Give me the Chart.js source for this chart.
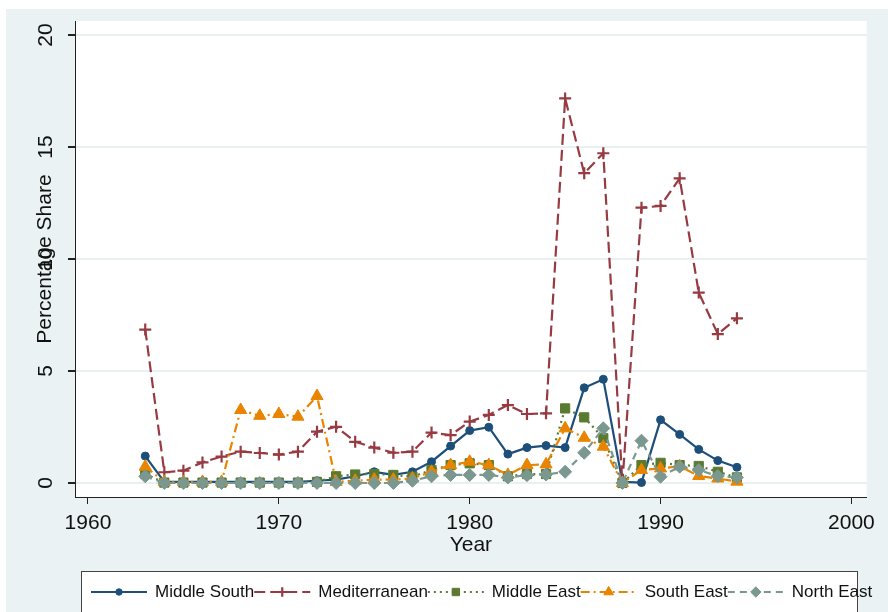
<!DOCTYPE html>
<html lang="en">
<head>
  <meta charset="UTF-8" />
  <title>Percentage Share by Region</title>
  <script src="https://cdn.jsdelivr.net/npm/chart.js"></script>
  <style>
    body {
      margin: 0;
      background: #fff;
    }
    .wrap {
      width: 888px;
      height: 612px;
    }
  </style>
</head>
<body>
  <div class="wrap">
    <canvas id="shareChart" width="888" height="612"></canvas>
  </div>

  <script>
    // ------------------------------------------
    // Data
    // ------------------------------------------
    const years = [1963, 1964, 1965, 1966, 1967, 1968, 1969, 1970, 1971, 1972,
                   1973, 1974, 1975, 1976, 1977, 1978, 1979, 1980, 1981, 1982,
                   1983, 1984, 1985, 1986, 1987, 1988, 1989, 1990, 1991, 1992,
                   1993, 1994];

    const middleSouth   = [1.2, 0.05, 0.05, 0.05, 0.05, 0.05, 0.05, 0.05, 0.05, 0.1,
                           0.15, 0.3, 0.5, 0.36, 0.5, 0.95, 1.65, 2.34, 2.49, 1.29,
                           1.58, 1.67, 1.58, 4.25, 4.63, 0.05, 0.02, 2.82, 2.17, 1.5,
                           1.0, 0.7];
    const mediterranean = [6.85, 0.48, 0.55, 0.92, 1.18, 1.4, 1.34, 1.27, 1.4, 2.29,
                           2.51, 1.84, 1.58, 1.35, 1.4, 2.25, 2.14, 2.74, 3.04, 3.48,
                           3.08, 3.11, 17.17, 13.83, 14.72, 0.0, 12.29, 12.37, 13.6, 8.5,
                           6.65, 7.35];
    const middleEast    = [0.4, 0.02, 0.02, 0.02, 0.02, 0.02, 0.02, 0.02, 0.02, 0.05,
                           0.3, 0.38, 0.4, 0.36, 0.28, 0.58, 0.8, 0.88, 0.8, 0.3,
                           0.4, 0.4, 3.33, 2.93, 2.0, 0.0, 0.8, 0.9, 0.8, 0.76,
                           0.5, 0.25];
    const southEast     = [0.73, 0.05, 0.05, 0.05, 0.05, 3.26, 3.0, 3.08, 2.96, 3.88,
                           0.05, 0.1, 0.15, 0.15, 0.2, 0.5, 0.8, 0.95, 0.8, 0.36,
                           0.8, 0.83, 2.44, 2.02, 1.62, 0.0, 0.58, 0.65, 0.75, 0.31,
                           0.2, 0.06];
    const northEast     = [0.3, 0.0, 0.0, 0.0, 0.0, 0.0, 0.0, 0.0, 0.0, 0.0,
                           0.0, 0.0, 0.0, 0.0, 0.1, 0.3, 0.36, 0.36, 0.36, 0.25,
                           0.35, 0.38, 0.5, 1.35, 2.44, 0.0, 1.89, 0.28, 0.73, 0.58,
                           0.31, 0.25];

    const seriesNames = ['Middle South', 'Mediterranean', 'Middle East', 'South East', 'North East'];
    const xTicks = [1960, 1970, 1980, 1990, 2000];
    const yTicks = [0, 5, 10, 15, 20];

    const FONT = '"Liberation Sans", Arial, Helvetica, sans-serif';
    const BG = '#eaf2f3';

    function toPoints(values) {
      return values.map((v, i) => ({ x: years[i], y: v }));
    }

    // line colour, dash, marker
    function makeSeries(label, values, color, dash, marker, radius, order) {
      return {
        label: label,
        data: toPoints(values),
        borderColor: color,
        backgroundColor: color,
        borderWidth: 2.2,
        borderDash: dash,
        pointStyle: marker,
        pointRadius: radius,
        pointBorderWidth: marker === 'cross' ? 2.2 : 1,
        pointBorderColor: color,
        pointBackgroundColor: color,
        tension: 0,
        fill: false,
        order: order
      };
    }

    const datasets = [
      makeSeries(seriesNames[0], middleSouth,   '#1c4f7a', [],            'circle',  4,   5),
      makeSeries(seriesNames[1], mediterranean, '#973a42', [11, 5],       'cross',   6,   4),
      makeSeries(seriesNames[2], middleEast,    '#5a7a32', [2, 4],        'rect',    6.5, 3),
      makeSeries(seriesNames[3], southEast,     '#e88400', [9, 4, 2, 4],  'triangle', 7,  2),
      makeSeries(seriesNames[4], northEast,     '#7a988f', [7, 5],        'rectRot', 6.5, 1)
    ];

    // ------------------------------------------
    // Plugins: Stata-like backgrounds and legend box
    // ------------------------------------------
    const backdrop = {
      id: 'backdrop',
      beforeDraw(chart) {
        const { ctx, chartArea } = chart;
        ctx.save();
        ctx.fillStyle = '#fff';
        ctx.fillRect(0, 0, chart.width, chart.height);
        ctx.fillStyle = BG;
        ctx.fillRect(6, 9, chart.width - 6, chart.height - 9);
        ctx.fillStyle = '#fff';
        ctx.fillRect(chartArea.left, chartArea.top,
                     chartArea.right - chartArea.left, chartArea.bottom - chartArea.top);
        ctx.restore();
      }
    };

    const boxLegend = {
      id: 'boxLegend',
      afterDraw(chart) {
        const ctx = chart.ctx;
        const y = 592;
        ctx.save();
        ctx.fillStyle = '#fff';
        ctx.fillRect(81, 571, 777, 50);
        ctx.strokeStyle = '#444';
        ctx.lineWidth = 1;
        ctx.strokeRect(81.5, 571.5, 776, 50);

        ctx.font = '17px ' + FONT;
        ctx.textBaseline = 'middle';
        ctx.textAlign = 'left';
        let x = 91;
        chart.data.datasets.forEach(ds => {
          ctx.save();
          ctx.strokeStyle = ds.borderColor;
          ctx.lineWidth = ds.borderWidth;
          ctx.setLineDash(ds.borderDash);
          ctx.beginPath();
          ctx.moveTo(x, y);
          ctx.lineTo(x + 56, y);
          ctx.stroke();
          ctx.setLineDash([]);
          ctx.fillStyle = ds.pointBackgroundColor;
          ctx.strokeStyle = ds.pointBorderColor;
          ctx.lineWidth = ds.pointBorderWidth;
          Chart.helpers.drawPoint(ctx, {
            pointStyle: ds.pointStyle,
            radius: ds.pointRadius * 0.8,
            rotation: 0,
            borderWidth: ds.pointBorderWidth
          }, x + 28, y);
          ctx.restore();

          ctx.fillStyle = '#111';
          ctx.fillText(ds.label, x + 64, y);
          x += 64 + ctx.measureText(ds.label).width;
        });
        ctx.restore();
      }
    };

    // ------------------------------------------
    // Chart
    // ------------------------------------------
    window.addEventListener('DOMContentLoaded', () => {
      const ctx = document.getElementById('shareChart').getContext('2d');

      new Chart(ctx, {
        type: 'line',
        data: { datasets: datasets },
        options: {
          responsive: false,
          animation: false,
          layout: {
            padding: { left: 34.5, top: 21, right: 21.3, bottom: 49 }
          },
          scales: {
            x: {
              type: 'linear',
              min: 1959.32,
              max: 2000.8,
              afterBuildTicks: axis => { axis.ticks = xTicks.map(v => ({ value: v })); },
              grid: {
                drawOnChartArea: false,
                drawTicks: true,
                tickLength: 7,
                tickColor: '#222'
              },
              border: { color: '#222', width: 1 },
              ticks: {
                color: '#111',
                padding: 8.5,
                maxRotation: 0,
                callback: v => String(v),
                font: { family: FONT, size: 21, lineHeight: 1 }
              },
              title: {
                display: true,
                text: 'Year',
                color: '#111',
                padding: { top: -7.5, bottom: 7.5 },
                font: { family: FONT, size: 21, lineHeight: 1 }
              }
            },
            y: {
              type: 'linear',
              min: -0.625,
              max: 20.625,
              afterBuildTicks: axis => { axis.ticks = yTicks.map(v => ({ value: v })); },
              grid: {
                color: '#e9f0f1',
                lineWidth: 2,
                drawTicks: true,
                tickLength: 7,
                tickColor: '#222'
              },
              border: { color: '#222', width: 1 },
              ticks: {
                color: '#111',
                padding: 10.3,
                minRotation: 90,
                maxRotation: 90,
                crossAlign: 'center',
                callback: v => String(v),
                font: { family: FONT, size: 21, lineHeight: 1 }
              },
              title: {
                display: true,
                text: 'Percentage Share',
                color: '#111',
                padding: { top: 0, bottom: -29.1 },
                font: { family: FONT, size: 21, lineHeight: 1 }
              }
            }
          },
          plugins: {
            legend: { display: false },
            tooltip: { enabled: false }
          }
        },
        plugins: [backdrop, boxLegend]
      });
    });
  </script>
</body>
</html>
